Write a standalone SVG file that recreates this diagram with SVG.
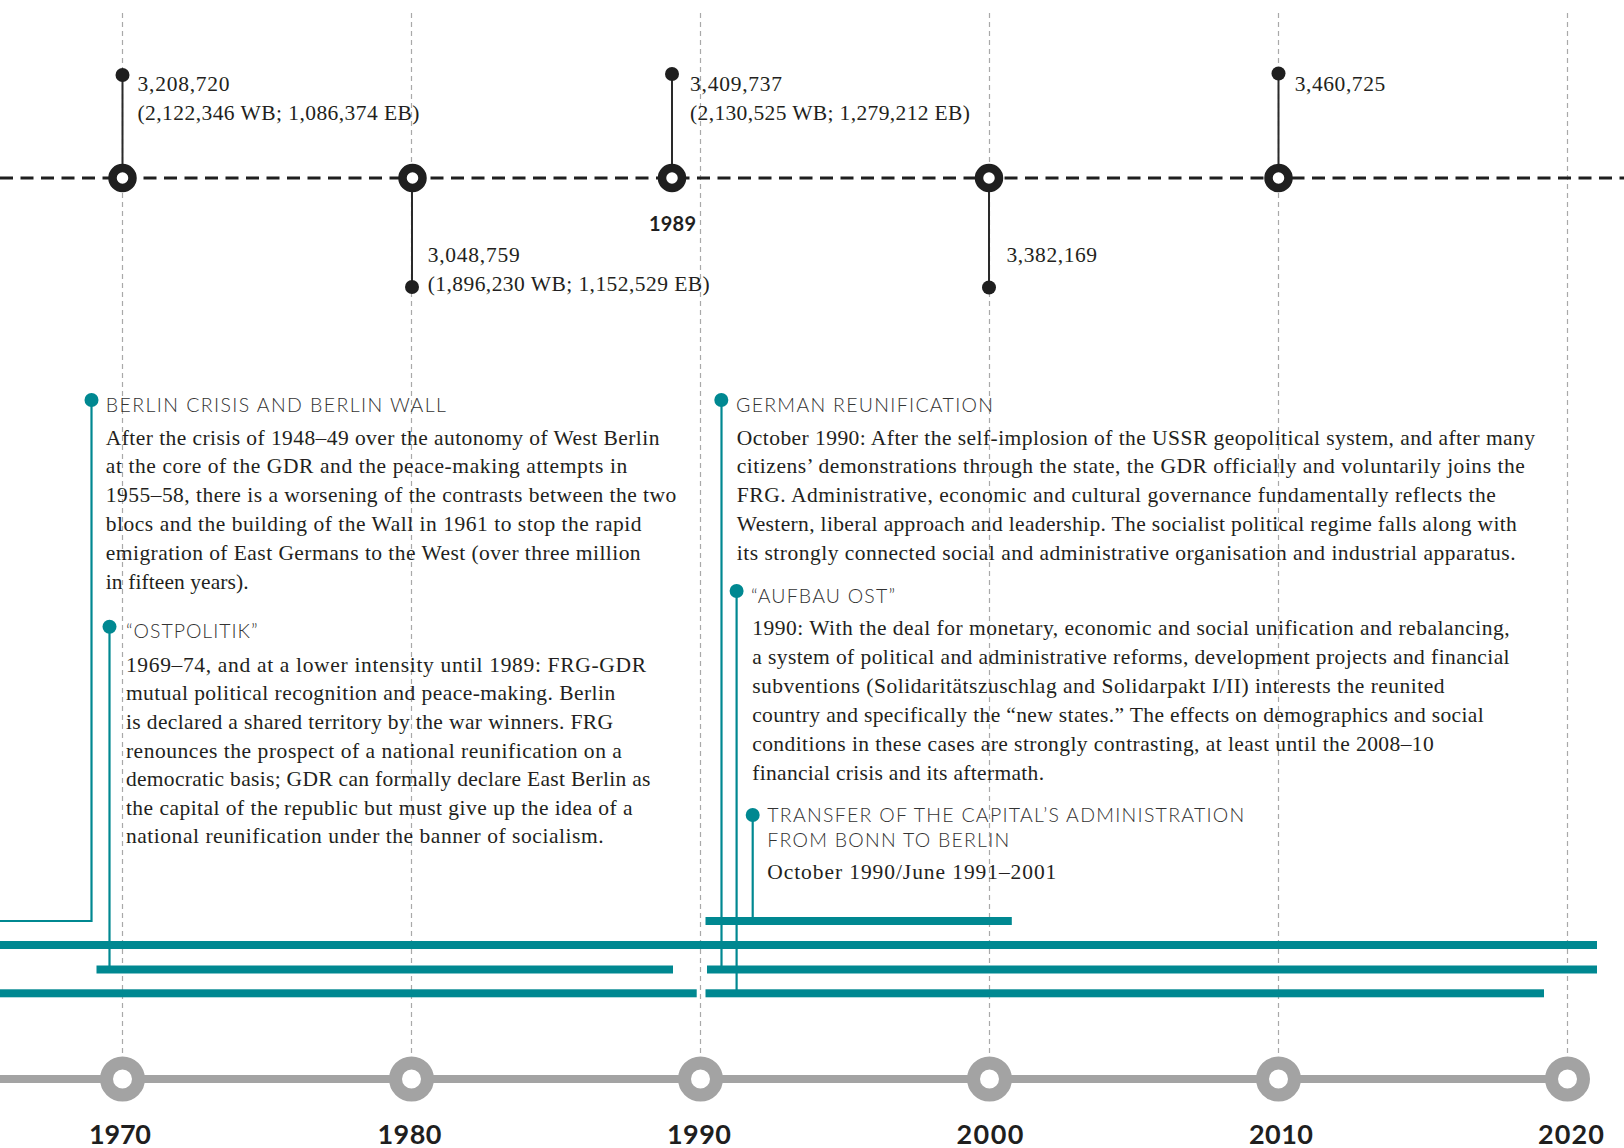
<svg xmlns="http://www.w3.org/2000/svg" width="1624" height="1148" viewBox="0 0 1624 1148">
<style>
.bg{fill:#ffffff}
.grid{stroke:#a9a9a9;stroke-width:1.2;stroke-dasharray:5 4;fill:none}
.topline{stroke:#1f1f1f;stroke-width:3.2;stroke-dasharray:13 7.5;fill:none}
.ring{fill:#ffffff;stroke:#1f1f1f;stroke-width:8.5}
.stem{stroke:#2a2a2a;stroke-width:2;fill:none}
.dot{fill:#1f1f1f}
.axis{stroke:#a3a3a3;stroke-width:8;fill:none}
.gring{fill:#ffffff;stroke:#a3a3a3;stroke-width:13}
.tdot{fill:#008891}
.tline{stroke:#008891;stroke-width:2.2;fill:none}
.bar{fill:#008891}
.serif{font-family:"Liberation Serif","Times New Roman",serif;font-size:21.5px;fill:#231f20}
.title{font-family:Lato,"Open Sans","Liberation Sans",sans-serif;font-weight:300;font-size:19.5px;fill:#333333}
.year{font-family:Lato,"Open Sans","Liberation Sans",sans-serif;font-weight:700;font-size:27px;fill:#1f1f1f;text-anchor:middle}
.y89{font-family:Lato,"Open Sans","Liberation Sans",sans-serif;font-weight:700;font-size:20px;fill:#1f1f1f;text-anchor:middle}
</style>
<rect class="bg" x="0" y="0" width="1624" height="1148"/>

<g id="gridlines">
<line class="grid" x1="122.5" y1="13" x2="122.5" y2="1079"/>
<line class="grid" x1="411.5" y1="13" x2="411.5" y2="1079"/>
<line class="grid" x1="700.5" y1="13" x2="700.5" y2="1079"/>
<line class="grid" x1="989.5" y1="13" x2="989.5" y2="1079"/>
<line class="grid" x1="1278.5" y1="13" x2="1278.5" y2="1079"/>
<line class="grid" x1="1567.5" y1="13" x2="1567.5" y2="1079"/>
</g>

<g id="connectors">
<line class="topline" x1="0" y1="178" x2="1624" y2="178"/>
<line class="stem" x1="122.5" y1="75" x2="122.5" y2="178"/>
<line class="stem" x1="412" y1="178" x2="412" y2="287"/>
<line class="stem" x1="672" y1="74" x2="672" y2="178"/>
<line class="stem" x1="989" y1="178" x2="989" y2="287.5"/>
<line class="stem" x1="1278.5" y1="73.5" x2="1278.5" y2="178"/>
<path class="tline" d="M91.5 400 V921 H0"/>
<path class="tline" d="M109.5 626.7 V969"/>
<path class="tline" d="M721.5 400 V969"/>
<path class="tline" d="M736.6 591 V993"/>
<path class="tline" d="M752.7 815 V921"/>
<line class="axis" x1="0" y1="1079" x2="1567.5" y2="1079"/>
</g>

<g id="bars">
<rect class="bar" x="705.5" y="917" width="306.3" height="8"/>
<rect class="bar" x="0" y="941" width="1597" height="8"/>
<rect class="bar" x="96.5" y="965.5" width="576.5" height="8"/>
<rect class="bar" x="707" y="965.5" width="890" height="8"/>
<rect class="bar" x="0" y="989.3" width="696.7" height="8"/>
<rect class="bar" x="705.5" y="989.3" width="838.5" height="8"/>
</g>

<g id="pop1970">
<circle class="dot" cx="122.5" cy="75" r="7"/>
<circle class="ring" cx="122.5" cy="178" r="10"/>
<text class="serif" x="137.5" y="91" textLength="92">3,208,720</text>
<text class="serif" x="137.5" y="120" textLength="282">(2,122,346 WB; 1,086,374 EB)</text>
</g>
<g id="pop1980">
<circle class="ring" cx="412.5" cy="178" r="10"/>
<circle class="dot" cx="412" cy="287" r="7"/>
<text class="serif" x="427.7" y="262" textLength="92">3,048,759</text>
<text class="serif" x="427.7" y="291" textLength="282">(1,896,230 WB; 1,152,529 EB)</text>
</g>
<g id="pop1989">
<circle class="dot" cx="672" cy="74" r="7"/>
<circle class="ring" cx="672" cy="178" r="10"/>
<text class="serif" x="690" y="91" textLength="92">3,409,737</text>
<text class="serif" x="690" y="120" textLength="280">(2,130,525 WB; 1,279,212 EB)</text>
<text class="y89" x="672.5" y="231" textLength="47">1989</text>
</g>
<g id="pop2000">
<circle class="ring" cx="989" cy="178" r="10"/>
<circle class="dot" cx="989" cy="287.5" r="7"/>
<text class="serif" x="1006.5" y="262" textLength="90.5">3,382,169</text>
</g>
<g id="pop2010">
<circle class="dot" cx="1278.5" cy="73.5" r="7"/>
<circle class="ring" cx="1278.5" cy="178" r="10"/>
<text class="serif" x="1294.7" y="91" textLength="90.5">3,460,725</text>
</g>

<g id="event-berlin-wall">
<circle class="tdot" cx="91.5" cy="400" r="7"/>
<text class="title" x="105.8" y="411.5" textLength="340">BERLIN CRISIS AND BERLIN WALL</text>
<text class="serif" x="105.8" y="444.5" textLength="553.6">After the crisis of 1948–49 over the autonomy of West Berlin</text>
<text class="serif" x="105.8" y="473.3" textLength="521.4">at the core of the GDR and the peace-making attempts in</text>
<text class="serif" x="105.8" y="502.1" textLength="570.5">1955–58, there is a worsening of the contrasts between the two</text>
<text class="serif" x="105.8" y="530.9" textLength="535.7">blocs and the building of the Wall in 1961 to stop the rapid</text>
<text class="serif" x="105.8" y="559.7" textLength="534.8">emigration of East Germans to the West (over three million</text>
<text class="serif" x="105.8" y="588.5" textLength="142.9">in fifteen years).</text>
</g>

<g id="event-ostpolitik">
<circle class="tdot" cx="109.5" cy="626.7" r="7"/>
<text class="title" x="126" y="638" textLength="131.6">“OSTPOLITIK”</text>
<text class="serif" x="125.9" y="671.7" textLength="520.1">1969–74, and at a lower intensity until 1989: FRG-GDR</text>
<text class="serif" x="125.9" y="700.3" textLength="489.3">mutual political recognition and peace-making. Berlin</text>
<text class="serif" x="125.9" y="728.9" textLength="487.1">is declared a shared territory by the war winners. FRG</text>
<text class="serif" x="125.9" y="757.5" textLength="496">renounces the prospect of a national reunification on a</text>
<text class="serif" x="125.9" y="786.1" textLength="524.5">democratic basis; GDR can formally declare East Berlin as</text>
<text class="serif" x="125.9" y="814.7" textLength="506.7">the capital of the republic but must give up the idea of a</text>
<text class="serif" x="125.9" y="843.3" textLength="477.7">national reunification under the banner of socialism.</text>
</g>

<g id="event-reunification">
<circle class="tdot" cx="721.3" cy="400" r="7"/>
<text class="title" x="736" y="411.5" textLength="257">GERMAN REUNIFICATION</text>
<text class="serif" x="736.8" y="444.5" textLength="798.2">October 1990: After the self-implosion of the USSR geopolitical system, and after many</text>
<text class="serif" x="736.8" y="473.3" textLength="787.9">citizens’ demonstrations through the state, the GDR officially and voluntarily joins the</text>
<text class="serif" x="736.8" y="502.1" textLength="759">FRG. Administrative, economic and cultural governance fundamentally reflects the</text>
<text class="serif" x="736.8" y="530.9" textLength="780">Western, liberal approach and leadership. The socialist political regime falls along with</text>
<text class="serif" x="736.8" y="559.7" textLength="778.8">its strongly connected social and administrative organisation and industrial apparatus.</text>
</g>

<g id="event-aufbau-ost">
<circle class="tdot" cx="736.6" cy="591" r="7"/>
<text class="title" x="751" y="603.3" textLength="144">“AUFBAU OST”</text>
<text class="serif" x="752.2" y="635" textLength="757.4">1990: With the deal for monetary, economic and social unification and rebalancing,</text>
<text class="serif" x="752.2" y="664" textLength="757.4">a system of political and administrative reforms, development projects and financial</text>
<text class="serif" x="752.2" y="693" textLength="692.4">subventions (Solidaritätszuschlag and Solidarpakt I/II) interests the reunited</text>
<text class="serif" x="752.2" y="722" textLength="731.5">country and specifically the “new states.” The effects on demographics and social</text>
<text class="serif" x="752.2" y="751" textLength="681.6">conditions in these cases are strongly contrasting, at least until the 2008–10</text>
<text class="serif" x="752.2" y="780" textLength="291.8">financial crisis and its aftermath.</text>
</g>

<g id="event-capital-transfer">
<circle class="tdot" cx="752.7" cy="815" r="7"/>
<text class="title" x="767.3" y="821.7" textLength="477">TRANSFER OF THE CAPITAL’S ADMINISTRATION</text>
<text class="title" x="767.3" y="847.3" textLength="242">FROM BONN TO BERLIN</text>
<text class="serif" x="767.3" y="878.5" textLength="289">October 1990/June 1991–2001</text>
</g>

<g id="axis-1970"><circle class="gring" cx="122.5" cy="1079" r="16"/><text class="year" x="120" y="1144" textLength="62">1970</text></g>
<g id="axis-1980"><circle class="gring" cx="411.5" cy="1079" r="16"/><text class="year" x="409.5" y="1144" textLength="64">1980</text></g>
<g id="axis-1990"><circle class="gring" cx="700.5" cy="1079" r="16"/><text class="year" x="699" y="1144" textLength="64">1990</text></g>
<g id="axis-2000"><circle class="gring" cx="989.5" cy="1079" r="16"/><text class="year" x="990" y="1144" textLength="67">2000</text></g>
<g id="axis-2010"><circle class="gring" cx="1278.5" cy="1079" r="16"/><text class="year" x="1281" y="1144" textLength="64">2010</text></g>
<g id="axis-2020"><circle class="gring" cx="1567.5" cy="1079" r="16"/><text class="year" x="1571" y="1144" textLength="66">2020</text></g>
</svg>
